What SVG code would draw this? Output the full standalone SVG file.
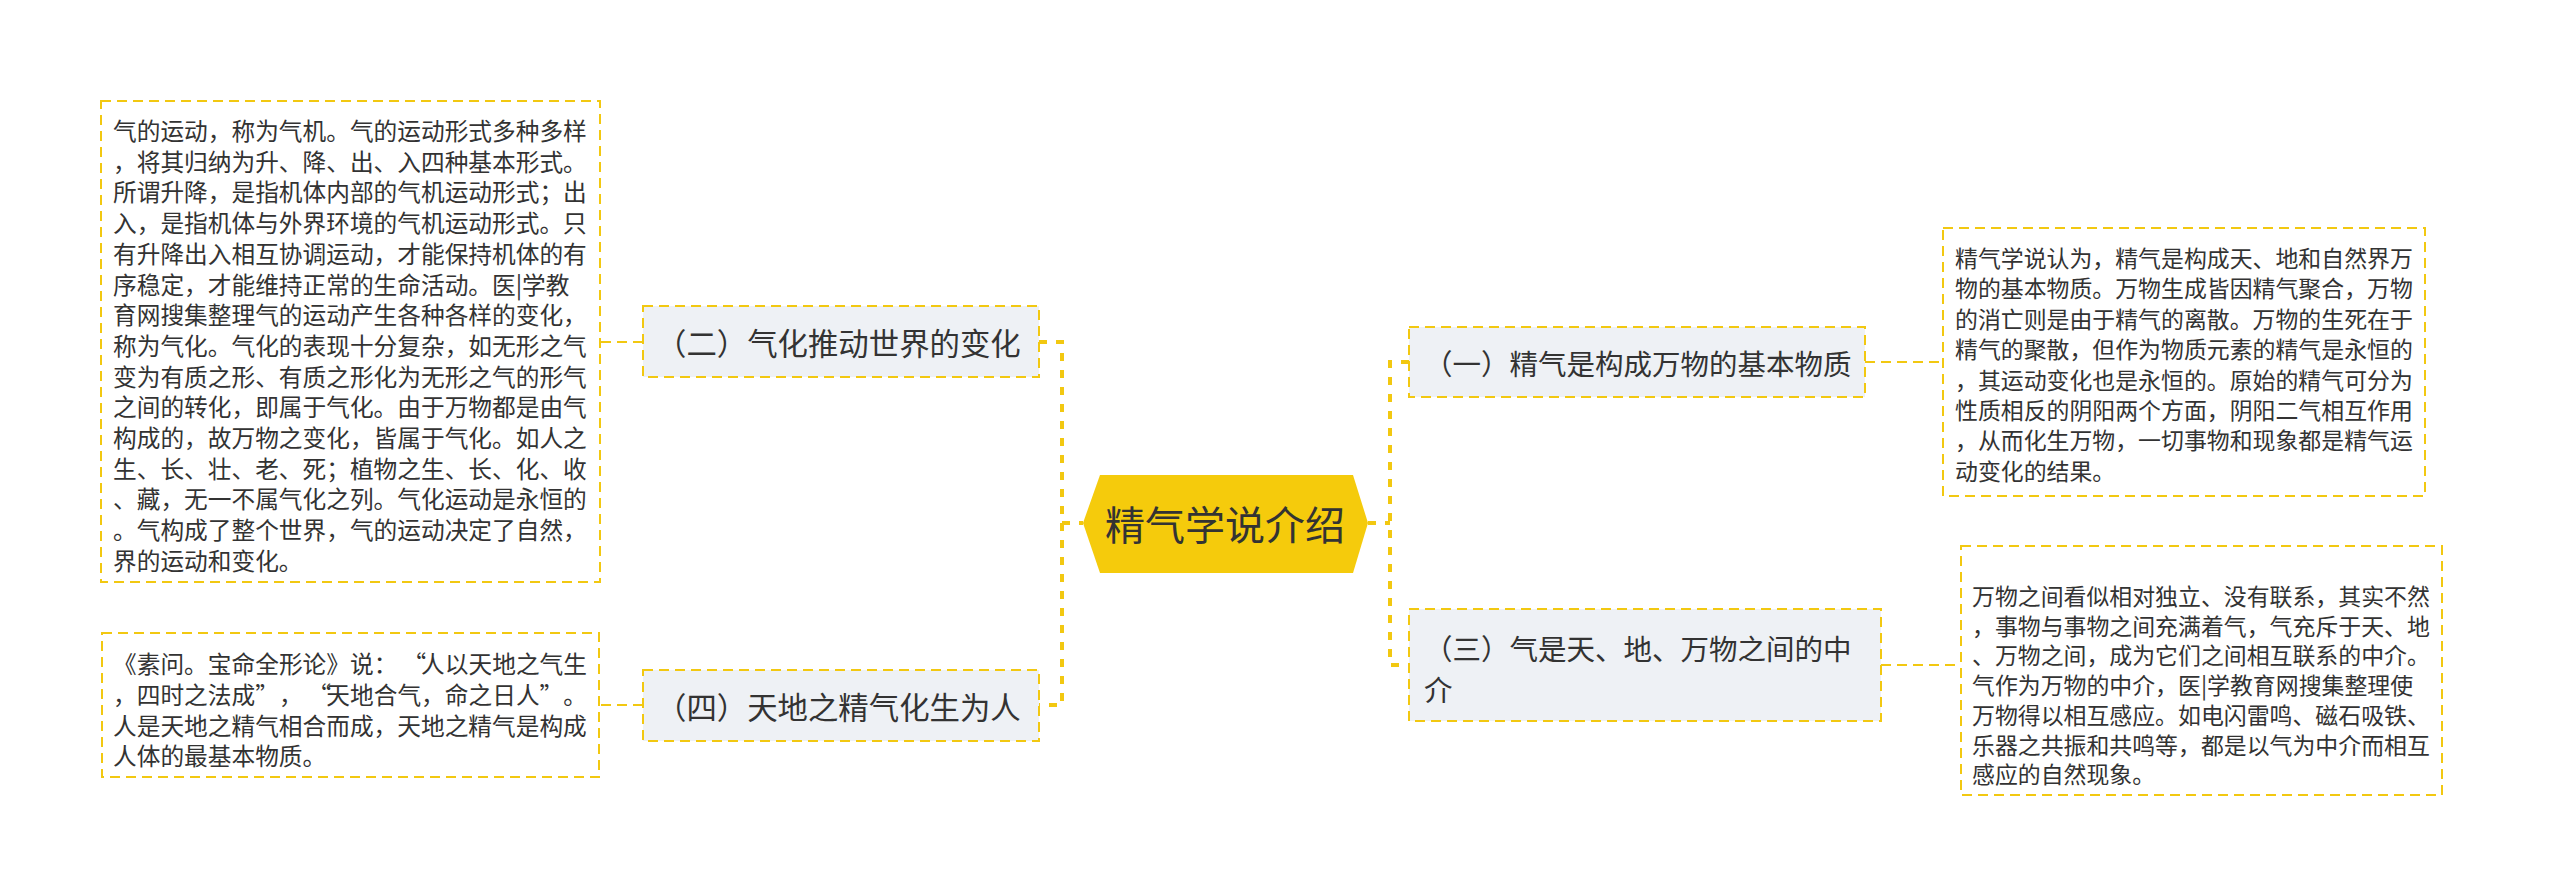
<svg xmlns="http://www.w3.org/2000/svg" width="2560" height="885" viewBox="0 0 2560 885">
<style>
.t{font-family:"Noto Sans CJK SC","Noto Sans",sans-serif;fill:#333333;dominant-baseline:central}
.leaf{fill:#ffffff;stroke:#F2C811;stroke-width:2;stroke-dasharray:10 6}
.node{fill:#EEF1F5;stroke:#F2C811;stroke-width:2;stroke-dasharray:10 6}
.main{fill:none;stroke:#F2C811;stroke-width:4;stroke-dasharray:8 9}
.thin{fill:none;stroke:#F2C811;stroke-width:2;stroke-dasharray:10 6}
.lt{font-size:23.7px}
.rt{font-size:22.9px}
</style>
<rect width="2560" height="885" fill="#ffffff"/>
<g id="connectors">
<path class="main" d="M1039,342 H1062 V705 H1039"/>
<path class="main" d="M1062,523 H1083"/>
<path class="main" d="M1409,362 H1390 V665 H1409"/>
<path class="main" d="M1368,523 H1390"/>
<path class="thin" d="M643,342 H600"/>
<path class="thin" d="M643,705 H599"/>
<path class="thin" d="M1865,362 H1943"/>
<path class="thin" d="M1881,665 H1961"/>
</g>
<g id="root">
<polygon points="1083,523 1100,475 1353,475 1368,523 1353,573 1100,573" fill="#F5CB0C"/>
<text class="t" x="1225" y="523" font-size="40" text-anchor="middle">精气学说介绍</text>
</g>
<g id="n2">
<rect class="node" x="643" y="306" width="396" height="71"/>
<text class="t" x="656" y="342" font-size="30.4">（二）气化推动世界的变化</text>
</g>
<g id="n4">
<rect class="node" x="643" y="670" width="396" height="71"/>
<text class="t" x="656" y="706" font-size="30.4">（四）天地之精气化生为人</text>
</g>
<g id="n1">
<rect class="node" x="1409" y="327" width="456" height="70"/>
<text class="t" x="1424" y="362" font-size="28.5">（一）精气是构成万物的基本物质</text>
</g>
<g id="n3">
<rect class="node" x="1409" y="609" width="472" height="112"/>
<text class="t" x="1424" y="647" font-size="28.5">（三）气是天、地、万物之间的中</text>
<text class="t" x="1424" y="688" font-size="28.5">介</text>
</g>
<g id="leaf2">
<rect class="leaf" x="101" y="101" width="499" height="481"/>
<text class="t lt" x="113" y="130">气的运动，称为气机。气的运动形式多种多样</text>
<text class="t lt" x="113" y="160.7">，将其归纳为升、降、出、入四种基本形式。</text>
<text class="t lt" x="113" y="191.4">所谓升降，是指机体内部的气机运动形式；出</text>
<text class="t lt" x="113" y="222.1">入，是指机体与外界环境的气机运动形式。只</text>
<text class="t lt" x="113" y="252.8">有升降出入相互协调运动，才能保持机体的有</text>
<text class="t lt" x="113" y="283.5">序稳定，才能维持正常的生命活动。医|学教</text>
<text class="t lt" x="113" y="314.2">育网搜集整理气的运动产生各种各样的变化，</text>
<text class="t lt" x="113" y="344.9">称为气化。气化的表现十分复杂，如无形之气</text>
<text class="t lt" x="113" y="375.6">变为有质之形、有质之形化为无形之气的形气</text>
<text class="t lt" x="113" y="406.3">之间的转化，即属于气化。由于万物都是由气</text>
<text class="t lt" x="113" y="437">构成的，故万物之变化，皆属于气化。如人之</text>
<text class="t lt" x="113" y="467.7">生、长、壮、老、死；植物之生、长、化、收</text>
<text class="t lt" x="113" y="498.4">、藏，无一不属气化之列。气化运动是永恒的</text>
<text class="t lt" x="113" y="529.1">。气构成了整个世界，气的运动决定了自然，</text>
<text class="t lt" x="113" y="559.8">界的运动和变化。</text>
</g>
<g id="leaf4">
<rect class="leaf" x="102" y="633" width="497" height="144"/>
<text class="t lt" x="113 136.7 160.4 184.1 207.8 231.5 255.2 278.9 302.6 326.3 350 373.7 402.4 421.1 444.8 468.5 492.2 515.9 539.6 563.3" y="663">《素问。宝命全形论》说：“人以天地之气生</text>
<text class="t lt" x="113 136.7 160.4 184.1 207.8 231.5 255.2 278.9 307.6 326.3 350 373.7 397.4 421.1 444.8 468.5 492.2 515.9 539.6 563.3" y="694">，四时之法成”，“天地合气，命之日人”。</text>
<text class="t lt" x="113" y="724.5">人是天地之精气相合而成，天地之精气是构成</text>
<text class="t lt" x="113" y="755">人体的最基本物质。</text>
</g>
<g id="leaf1">
<rect class="leaf" x="1943" y="228" width="482" height="268"/>
<text class="t rt" x="1955" y="257">精气学说认为，精气是构成天、地和自然界万</text>
<text class="t rt" x="1955" y="287.4">物的基本物质。万物生成皆因精气聚合，万物</text>
<text class="t rt" x="1955" y="317.8">的消亡则是由于精气的离散。万物的生死在于</text>
<text class="t rt" x="1955" y="348.2">精气的聚散，但作为物质元素的精气是永恒的</text>
<text class="t rt" x="1955" y="378.6">，其运动变化也是永恒的。原始的精气可分为</text>
<text class="t rt" x="1955" y="409">性质相反的阴阳两个方面，阴阳二气相互作用</text>
<text class="t rt" x="1955" y="439.4">，从而化生万物，一切事物和现象都是精气运</text>
<text class="t rt" x="1955" y="469.8">动变化的结果。</text>
</g>
<g id="leaf3">
<rect class="leaf" x="1961" y="546" width="481" height="249"/>
<text class="t rt" x="1972" y="595">万物之间看似相对独立、没有联系，其实不然</text>
<text class="t rt" x="1972" y="624.7">，事物与事物之间充满着气，气充斥于天、地</text>
<text class="t rt" x="1972" y="654.4">、万物之间，成为它们之间相互联系的中介。</text>
<text class="t rt" x="1972" y="684.1">气作为万物的中介，医|学教育网搜集整理使</text>
<text class="t rt" x="1972" y="713.8">万物得以相互感应。如电闪雷鸣、磁石吸铁、</text>
<text class="t rt" x="1972" y="743.5">乐器之共振和共鸣等，都是以气为中介而相互</text>
<text class="t rt" x="1972" y="773.2">感应的自然现象。</text>
</g>
</svg>
